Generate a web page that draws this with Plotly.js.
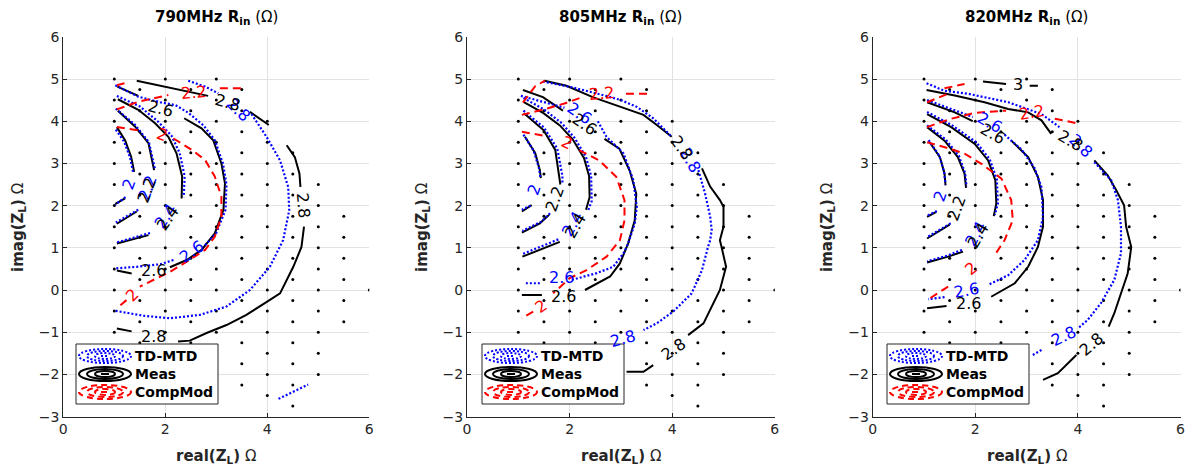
<!DOCTYPE html>
<html><head><meta charset="utf-8">
<script src="https://cdn.plot.ly/plotly-3.0.1.min.js"></script>
<style>html,body{margin:0;padding:0;background:#fff}</style>
</head><body><div id="chart" style="width:1187px;height:472px"></div>
<script>
// ---------------- DATA ----------------
const freqs = ['790MHz', '805MHz', '820MHz'];
const modelNames = ['TD-MTD', 'Meas', 'CompMod'];

// measurement grid (load impedances): columns, top and bottom imag value in each column (0.5 steps)
const gridColX      = [1, 1.5, 2, 2.5, 3, 3.5, 4, 4.5, 5, 5.5, 6];
const gridColTop    = [5, 4.75, 5, 4.75, 5, 4.75, 4, 3.25, 2.5, 1.75, 0];
const gridColBottom = [-1, -1.25, -1.5, -1.75, -2, -2.25, -2.5, -2.75, -2, -0.75, 0];

// ---- 790 MHz ----
const meas790_x = [1.05,1.21,1.33,1.39,null,1.21,1.02,null,
  1.07,1.41,1.67,1.78,null,1.44,1.05,null,
  1.07,1.47,1.80,2.06,2.22,2.33,2.32,null,1.67,1.05,null,
  1.06,1.47,null,2.37,2.71,2.94,3.10,3.17,3.14,2.97,2.71,2.42,2.09,null,1.34,1.05,null,
  1.44,2.00,2.45,2.84,null,3.66,4.03,null,4.38,4.54,4.63,4.65,null,4.72,4.67,4.51,4.38,4.25,3.99,3.59,3.20,2.81,2.48,2.25,null,1.34,1.05];
const meas790_y = [3.86,3.55,3.16,2.80,null,2.17,2.04,null,
  4.25,3.87,3.48,2.84,null,1.86,1.57,null,
  4.52,4.27,3.95,3.63,3.24,2.69,2.17,null,1.30,1.10,null,
  4.82,4.60,null,4.07,3.83,3.55,3.00,2.53,1.90,1.34,0.95,0.71,0.54,null,0.39,0.46,null,
  4.96,4.82,4.70,4.60,null,4.22,3.91,null,3.43,3.15,2.76,2.44,null,1.50,1.02,0.55,0.24,-0.08,-0.28,-0.59,-0.83,-1.02,-1.20,-1.22,null,-0.98,-0.91];
const td790_x = [1.03,1.19,1.31,1.37,null,1.22,1.02,null,
  1.03,1.40,1.68,1.80,null,1.47,1.03,null,
  1.05,1.50,1.85,2.12,2.28,2.38,2.36,null,1.70,1.03,null,
  1.02,1.47,1.90,2.20,2.45,2.75,2.97,3.13,3.20,3.18,3.00,2.75,null,2.16,1.90,1.44,1.00,null,
  2.45,2.78,3.04,null,3.69,3.99,4.25,4.41,4.43,4.31,4.05,3.66,3.20,2.68,2.09,1.57,1.01,null,
  4.22,4.80];
const td790_y = [3.80,3.52,3.14,2.78,null,2.20,2.02,null,
  4.30,3.92,3.50,2.85,null,1.90,1.60,null,
  4.60,4.35,4.00,3.66,3.25,2.70,2.20,null,1.35,1.12,null,
  4.85,4.58,4.45,4.38,4.20,3.90,3.55,3.00,2.50,1.90,1.35,1.02,null,0.71,0.61,0.55,0.51,null,
  4.96,4.82,4.66,null,4.17,3.62,3.07,2.44,1.89,1.18,0.55,0.00,-0.39,-0.59,-0.67,-0.61,-0.49,null,
  -2.58,-2.24];
const comp790_x = [1.05,1.54,null,2.16,2.52,2.78,2.97,3.10,3.10,2.97,2.78,2.42,2.09,1.50,null,1.24,1.05,null,
  1.05,1.47,2.06,null,3.07,3.50,null,1.05,1.20];
const comp790_y = [3.86,3.77,null,3.59,3.32,3.08,2.69,2.21,1.74,1.26,0.95,0.67,0.43,0.08,null,-0.24,-0.43,null,
  4.28,4.46,4.62,null,4.78,4.78,null,4.85,4.90];

// ---- 805 MHz ----
const meas805_x = [1.13,1.33,1.42,1.44,null,1.26,1.07,null,
  1.11,1.49,1.72,1.81,1.82,null,1.60,1.42,1.07,null,
  1.10,1.49,1.81,2.06,2.28,2.38,2.39,2.32,null,1.81,1.08,null,
  1.09,1.48,1.87,null,2.68,2.97,3.17,3.30,3.27,3.14,2.98,2.79,2.30,null,1.46,1.07,null,
  1.51,1.94,2.45,2.98,3.44,3.70,3.99,null,4.58,4.74,4.93,5.00,5.00,4.93,4.96,5.05,4.93,4.74,4.61,4.31,null,3.63,3.44,3.11];
const meas805_y = [3.63,3.24,2.84,2.65,null,2.01,1.86,null,
  4.19,3.79,3.32,2.65,2.50,null,1.78,1.58,1.36,null,
  4.46,4.19,3.90,3.57,3.13,2.70,2.20,1.90,null,1.14,0.79,null,
  4.74,4.57,4.25,null,3.58,3.35,2.83,2.28,1.65,1.10,0.63,0.32,0.00,null,-0.12,-0.12,null,
  4.96,4.84,4.57,4.34,4.15,3.91,3.63,null,2.88,2.45,2.13,1.97,1.50,1.18,1.03,0.55,0.00,-0.47,-0.79,-1.07,null,-1.78,-1.94,-1.94];
const td805_x = [1.10,1.30,1.40,1.43,null,1.24,1.07,null,
  1.10,1.50,1.76,1.86,1.86,null,1.62,1.45,1.08,null,
  1.10,1.50,1.85,2.10,2.32,2.42,2.43,2.35,null,1.78,1.08,null,
  1.05,1.50,1.90,null,2.55,2.72,3.05,3.24,3.31,3.27,3.14,3.05,2.85,2.53,2.04,null,1.42,1.13,null,
  1.48,2.06,2.71,3.00,3.31,3.63,3.99,null,4.51,4.64,4.74,4.77,4.74,4.70,4.58,4.38,4.02,3.70,3.44];
const td805_y = [3.68,3.30,2.90,2.68,null,2.00,1.90,null,
  4.25,3.85,3.35,2.70,2.52,null,1.82,1.62,1.40,null,
  4.55,4.28,3.95,3.60,3.15,2.70,2.10,1.85,null,1.20,0.85,null,
  4.60,4.45,4.32,null,4.00,3.63,3.24,2.61,1.97,1.57,1.10,0.87,0.55,0.40,0.24,null,0.16,0.16,null,
  4.94,4.80,4.60,4.50,4.34,4.07,3.63,null,2.84,2.29,1.74,1.42,1.18,1.03,0.47,-0.08,-0.51,-0.79,-0.95];
const comp805_x = [1.07,1.48,null,2.19,2.58,2.91,3.07,3.07,2.98,2.72,2.33,2.00,1.68,null,1.29,1.07,null,
  1.07,1.50,1.90,2.20,null,3.10,3.55,null,1.09,1.33,1.52];
const comp805_y = [3.75,3.66,null,3.31,3.07,2.68,2.13,1.65,1.18,0.79,0.47,0.28,-0.08,null,-0.51,-0.67,null,
  4.15,4.28,4.42,4.55,null,4.65,4.65,null,4.44,4.83,4.96];

// ---- 820 MHz ----
const meas820_x = [1.11,1.31,1.40,1.42,null,1.24,1.06,null,
  1.06,1.40,1.66,1.79,1.82,null,1.50,1.06,null,
  1.06,1.53,1.99,2.25,2.39,2.41,2.36,null,1.76,1.47,1.06,null,
  1.06,1.60,1.95,null,2.70,3.03,3.22,3.32,3.32,3.22,3.03,2.77,2.31,null,1.44,1.06,null,
  1.05,1.60,2.18,2.64,3.03,3.29,3.48,null,4.32,4.58,4.75,4.90,4.94,5.04,4.97,4.84,4.71,4.60,null,3.97,3.61,3.32,null,
  2.15,2.60,null,3.06,3.22];
const meas820_y = [3.50,3.15,2.76,2.48,null,1.85,1.73,null,
  3.86,3.54,3.15,2.76,2.42,null,1.55,1.22,null,
  4.17,3.86,3.46,3.07,2.60,2.05,1.75,null,0.91,0.79,0.65,null,
  4.45,4.21,4.00,null,3.54,3.15,2.68,2.13,1.50,1.02,0.55,0.16,-0.16,null,-0.38,-0.43,null,
  4.74,4.61,4.45,4.29,4.21,4.02,3.70,null,3.07,2.72,2.36,2.01,1.50,1.02,0.39,-0.08,-0.55,-0.87,null,-1.54,-1.97,-2.13,null,
  4.94,4.88,null,4.84,4.84];
const td820_x = [1.09,1.30,1.39,1.42,null,1.25,1.06,null,
  1.06,1.42,1.68,1.80,1.83,null,1.52,1.06,null,
  1.06,1.55,2.02,2.28,2.42,2.44,2.38,null,1.74,1.47,1.06,null,
  1.06,1.60,1.95,null,2.57,2.90,3.15,3.29,3.32,3.22,2.96,2.64,2.25,null,1.40,1.08,null,
  1.05,1.40,1.86,2.64,3.29,3.64,null,4.32,4.65,4.78,4.84,4.84,4.71,4.45,4.19,4.00,null,3.29,3.12];
const td820_y = [3.55,3.18,2.80,2.50,null,1.87,1.76,null,
  3.90,3.57,3.18,2.78,2.45,null,1.58,1.25,null,
  4.22,3.90,3.50,3.10,2.62,2.05,1.78,null,0.95,0.82,0.68,null,
  4.50,4.26,4.10,null,3.68,3.33,2.90,2.44,1.73,1.18,0.71,0.35,0.12,null,-0.17,-0.22,null,
  4.90,4.72,4.65,4.45,4.17,3.86,null,3.03,2.60,2.13,1.50,0.87,0.24,-0.31,-0.71,-0.91,null,-1.42,-1.54];
const comp820_x = [1.06,1.50,1.79,2.12,2.51,2.70,2.73,2.57,2.38,null,1.47,1.06,null,
  1.06,1.50,2.00,2.60,null,3.55,4.03,null,1.06,1.47,null,1.40,1.79];
const comp820_y = [3.50,3.35,3.23,2.99,2.64,2.13,1.65,1.18,0.83,null,0.08,-0.24,null,
  3.86,4.05,4.20,4.25,null,4.06,3.94,null,4.45,4.65,null,4.78,4.88];

// contour labels: text, x, y, rotation, model (0 TD-MTD, 1 Meas, 2 CompMod)
const labels790_text  = ['2','2.2','2.4','2.6','2.8', '2.2','2.4','2.6','2.6','2.8','2.8','2.8', '2','2','2.2'];
const labels790_x     = [1.28,1.66,2.00,2.52,3.43, 1.63,2.04,1.90,1.76,3.22,4.70,1.76, 1.93,1.34,2.56];
const labels790_y     = [2.50,2.42,1.74,0.91,4.28, 2.36,1.70,4.31,0.46,4.44,2.02,-1.10, 3.68,-0.12,4.69];
const labels790_angle = [-70,-70,-55,-35,45, -70,-55,15,0,15,85,0, 20,-45,-5];
const labels790_model = [0,0,0,0,0, 1,1,1,1,1,1,1, 2,2,2];

const labels805_text  = ['2','2.4','2.6','2.6','2.8','2.8', '2.2','2.4','2.6','2.6','2.8','2.8', '2','2','2.2'];
const labels805_x     = [1.31,2.05,2.20,1.85,4.36,3.04, 1.70,2.12,2.30,1.88,4.18,4.02, 1.94,1.44,2.62];
const labels805_y     = [2.38,1.55,4.19,0.29,3.08,-1.14, 2.15,1.52,3.93,-0.16,3.38,-1.42, 3.50,-0.39,4.66];
const labels805_angle = [-70,-60,35,0,60,-15, -70,-60,35,0,55,-35, 25,-35,-5];
const labels805_model = [0,0,0,0,0,0, 1,1,1,1,1,1, 2,2,2];

const labels820_text  = ['2','2.4','2.6','2.6','2.8','2.8', '2.2','2.4','2.6','2.6','2.8','2.8','3', '2','2.2'];
const labels820_x     = [1.31,2.00,2.28,1.82,4.05,3.71, 1.63,2.05,2.33,1.86,3.85,4.26,2.83, 1.92,3.09];
const labels820_y     = [2.22,1.32,3.97,-0.02,3.42,-1.10, 1.93,1.30,3.70,-0.32,3.55,-1.30,4.87, 0.51,4.21];
const labels820_angle = [-70,-60,30,-10,45,-25, -70,-60,30,0,30,-40,0, -40,-10];
const labels820_model = [0,0,0,0,0,0, 1,1,1,1,1,1,1, 2,2];

// ---------------- BUILD ----------------
const FONT = 'DejaVu Sans, Verdana, sans-serif';
const W = 1187, H = 472;
const xDomains = [[63.3/W, 369.3/W], [467/W, 774.8/W], [872.7/W, 1180.5/W]];
const yDomain = [1 - 416.6/H, 1 - 36.8/H];
const legendLeftPx = [76, 482, 887];
const ylabelPx = [18, 422, 827];
const modelColors = ['#0000ff', '#000000', '#ff0000'];
const modelDash = ['2px,2px', 'solid', '6px,4px'];

const series = [
  {meas:[meas790_x,meas790_y], td:[td790_x,td790_y], comp:[comp790_x,comp790_y],
   lab:[labels790_text,labels790_x,labels790_y,labels790_angle,labels790_model]},
  {meas:[meas805_x,meas805_y], td:[td805_x,td805_y], comp:[comp805_x,comp805_y],
   lab:[labels805_text,labels805_x,labels805_y,labels805_angle,labels805_model]},
  {meas:[meas820_x,meas820_y], td:[td820_x,td820_y], comp:[comp820_x,comp820_y],
   lab:[labels820_text,labels820_x,labels820_y,labels820_angle,labels820_model]}
];

// expand measurement grid
const gridX = [], gridY = [];
gridColX.forEach((cx, i) => {
  for (let yv = gridColTop[i]; yv >= gridColBottom[i] - 1e-9; yv -= 0.5) { gridX.push(cx); gridY.push(yv); }
});

const traces = [];
const annotations = [];
const shapes = [];
const layout = {
  width: W, height: H,
  margin: {l:0, r:0, t:0, b:0},
  paper_bgcolor: '#ffffff', plot_bgcolor: '#ffffff',
  showlegend: false,
  font: {family: FONT, color: '#262626'}
};

const px = v => v / W;
const py = v => 1 - v / H;

series.forEach((s, i) => {
  const xa = i === 0 ? 'x' : 'x' + (i+1);
  const ya = i === 0 ? 'y' : 'y' + (i+1);
  const axKeyX = i === 0 ? 'xaxis' : 'xaxis' + (i+1);
  const axKeyY = i === 0 ? 'yaxis' : 'yaxis' + (i+1);

  layout[axKeyX] = {
    domain: xDomains[i], anchor: ya, range: [0, 6], dtick: 2, tick0: 0,
    showgrid: true, gridcolor: '#e2e2e2', gridwidth: 1, zeroline: false,
    showline: true, linecolor: '#262626', linewidth: 1,
    ticks: 'inside', ticklen: 4, tickcolor: '#262626',
    tickfont: {family: FONT, size: 14, color: '#262626'}, fixedrange: true
  };
  layout[axKeyY] = {
    domain: yDomain, anchor: xa, range: [-3, 6], dtick: 1, tick0: 0,
    showgrid: true, gridcolor: '#e2e2e2', gridwidth: 1, zeroline: false,
    showline: true, linecolor: '#262626', linewidth: 1,
    ticks: 'inside', ticklen: 4, tickcolor: '#262626',
    tickfont: {family: FONT, size: 14, color: '#262626'}, fixedrange: true
  };

  traces.push({x: gridX, y: gridY, xaxis: xa, yaxis: ya, mode: 'markers', type: 'scatter',
    marker: {size: 3, color: '#000000'}, showlegend: false, hoverinfo: 'skip'});
  traces.push({x: s.meas[0], y: s.meas[1], xaxis: xa, yaxis: ya, mode: 'lines', type: 'scatter',
    line: {color: '#000000', width: 2}, connectgaps: false, name: modelNames[1], hoverinfo: 'skip'});
  traces.push({x: s.td[0], y: s.td[1], xaxis: xa, yaxis: ya, mode: 'lines', type: 'scatter',
    line: {color: '#0000ff', width: 2.2, dash: '2px,2px'}, connectgaps: false, name: modelNames[0], hoverinfo: 'skip'});
  traces.push({x: s.comp[0], y: s.comp[1], xaxis: xa, yaxis: ya, mode: 'lines', type: 'scatter',
    line: {color: '#ff0000', width: 2, dash: '8px,5px'}, connectgaps: false, name: modelNames[2], hoverinfo: 'skip'});

  // contour labels
  const [lt, lx, ly, la, lm] = s.lab;
  lt.forEach((t, k) => {
    annotations.push({text: t, x: lx[k], y: ly[k], xref: xa, yref: ya, showarrow: false,
      textangle: la[k], font: {family: FONT, size: 16, color: modelColors[lm[k]]},
      xanchor: 'center', yanchor: 'middle'});
  });

  // legend box (MATLAB style, contour icons)
  const L = legendLeftPx[i];
  shapes.push({type: 'rect', xref: 'paper', yref: 'paper', layer: 'above',
    x0: px(L), x1: px(L + 142), y0: py(404), y1: py(344),
    line: {color: '#262626', width: 1}, fillcolor: '#ffffff'});
  const rowsY = [356, 374, 392];
  const icx = L + 29;
  const ringHW = [26, 18, 10], ringHH = [7, 5, 3];
  modelNames.forEach((nm, m) => {
    const cy = rowsY[m];
    ringHW.forEach((hw, r) => {
      shapes.push({type: 'circle', xref: 'paper', yref: 'paper', layer: 'above',
        x0: px(icx - hw), x1: px(icx + hw), y0: py(cy + ringHH[r]), y1: py(cy - ringHH[r]),
        line: {color: modelColors[m], width: 2, dash: modelDash[m]}});
    });
    shapes.push({type: 'line', xref: 'paper', yref: 'paper', layer: 'above',
      x0: px(icx - 4), x1: px(icx + 4), y0: py(cy), y1: py(cy),
      line: {color: modelColors[m], width: 2, dash: modelDash[m]}});
    annotations.push({text: '<b>' + nm + '</b>', x: px(L + 57), y: py(cy), xref: 'paper', yref: 'paper',
      showarrow: false, xanchor: 'left', yanchor: 'middle',
      font: {family: FONT, size: 14, color: '#000000'}});
  });

  const cx = (xDomains[i][0] + xDomains[i][1]) / 2;
  // subplot title
  annotations.push({text: '<b>' + freqs[i] + ' R<sub>in</sub></b> (Ω)', x: cx, y: py(17),
    xref: 'paper', yref: 'paper', showarrow: false, xanchor: 'center', yanchor: 'middle',
    font: {family: FONT, size: 15, color: '#000000'}});
  // x axis title
  annotations.push({text: '<b>real(Z<sub>L</sub>)</b> Ω', x: cx, y: py(456),
    xref: 'paper', yref: 'paper', showarrow: false, xanchor: 'center', yanchor: 'middle',
    font: {family: FONT, size: 15, color: '#262626'}});
  // y axis title
  annotations.push({text: '<b>imag(Z<sub>L</sub>)</b> Ω', x: px(ylabelPx[i]), y: py(228),
    xref: 'paper', yref: 'paper', showarrow: false, xanchor: 'center', yanchor: 'middle',
    textangle: -90, font: {family: FONT, size: 15, color: '#262626'}});
});

layout.annotations = annotations;
layout.shapes = shapes;
Plotly.newPlot('chart', traces, layout, {staticPlot: true, displayModeBar: false});
</script>
</body></html>
